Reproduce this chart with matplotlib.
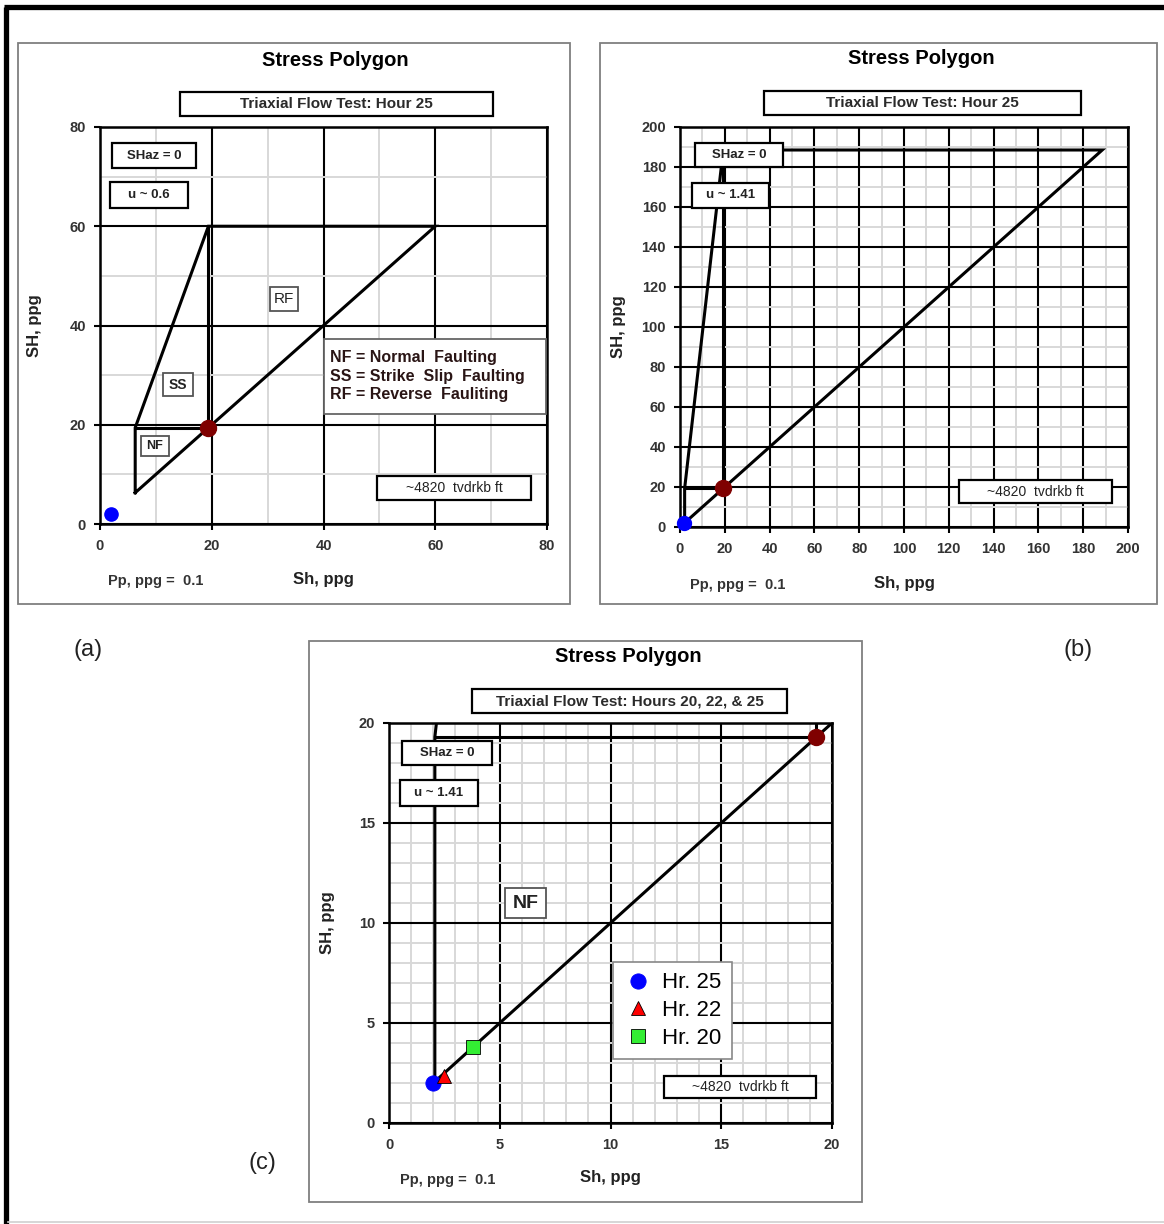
import matplotlib
matplotlib.use('Agg')
import matplotlib.pyplot as plt
from matplotlib.patches import Rectangle
from matplotlib.lines import Line2D
import numpy as np

plt.rcParams['font.family'] = ['Liberation Sans', 'DejaVu Sans']

W, H = 1164, 1224

# ---- data ---- #
pp_text = 'Pp, ppg =  0.1'
depth_text = '~4820  tvdrkb ft'

# panel (a): u ~ 0.6
poly_a_x = [6.3, 6.3, 19.4, 60.0, 6.3]
poly_a_y = [6.3, 19.4, 60.0, 60.0, 6.3]
inner_a_x = [6.3, 19.4, 19.4]
inner_a_y = [19.4, 19.4, 60.0]

# panels (b) and (c): u ~ 1.41
poly_b_x = [2.07, 2.07, 19.3, 188.5, 2.07]
poly_b_y = [2.07, 19.3, 188.5, 188.5, 2.07]
inner_b_x = [2.07, 19.3, 19.3]
inner_b_y = [19.3, 19.3, 188.5]

sv_a = [19.4, 19.4]
sv_b = [19.3, 19.3]

hours = ['Hr. 25', 'Hr. 22', 'Hr. 20']
hour_sh = [2.0, 2.5, 3.8]
hour_SH = [2.0, 2.35, 3.8]
hour_marker = ['o', '^', 's']
hour_color = ['#0000ff', '#ff0000', '#33ee33']


def fx(px):
    return px / W


def fy(py):
    return 1 - py / H


def make_axes(x0, y0, x1, y1, lim, major, minor):
    ax = fig.add_axes([fx(x0), fy(y1), (x1 - x0) / W, (y1 - y0) / H])
    ax.set_xlim(0, lim)
    ax.set_ylim(0, lim)
    ticks = np.arange(0, lim + major / 2, major)
    mticks = np.arange(0, lim + minor / 2, minor)
    ax.set_xticks(ticks)
    ax.set_yticks(ticks)
    ax.set_xticks(mticks, minor=True)
    ax.set_yticks(mticks, minor=True)
    ax.grid(which='minor', color='#d8d8d8', lw=1.4)
    ax.grid(which='major', color='black', lw=1.5)
    ax.set_axisbelow(True)
    ax.tick_params(which='minor', length=0)
    ax.tick_params(which='major', length=4, width=1.5, direction='out',
                   labelsize=10.5, labelcolor='#333333')
    ax.tick_params(axis='x', pad=7)
    ax.tick_params(axis='y', pad=6)
    for lbl in ax.get_xticklabels() + ax.get_yticklabels():
        lbl.set_fontweight('bold')
    for sp in ax.spines.values():
        sp.set_linewidth(1.8)
    ax.set_xlabel('Sh, ppg', fontsize=12, fontweight='bold', color='#222222')
    ax.set_ylabel('SH, ppg', fontsize=12, fontweight='bold', color='#222222')
    return ax


def box_text(ax, x0, y0, x1, y1, s, ec='black', lw=1.6, **kw):
    ax.add_patch(Rectangle((x0, y0), x1 - x0, y1 - y0, fc='white', ec=ec, lw=lw,
                           zorder=5, clip_on=False))
    kw.setdefault('fontsize', 9.5)
    kw.setdefault('fontweight', 'bold')
    kw.setdefault('color', '#222222')
    ax.text((x0 + x1) / 2, (y0 + y1) / 2, s, ha='center', va='center', zorder=6, **kw)


def fig_box(x0, y0, x1, y1, s):
    fig.add_artist(Rectangle((fx(x0), fy(y1)), (x1 - x0) / W, (y1 - y0) / H,
                             transform=fig.transFigure, fc='white', ec='black', lw=1.6))
    fig.text(fx((x0 + x1) / 2), fy((y0 + y1) / 2), s, ha='center', va='center',
             fontsize=11, fontweight='bold', color='#2a2a2a')


def panel_frame(x0, y0, x1, y1):
    fig.add_artist(Rectangle((fx(x0), fy(y1)), (x1 - x0) / W, (y1 - y0) / H,
                             transform=fig.transFigure, fc='none', ec='#7f7f7f', lw=1.3))


def draw_polygon(ax, px, py, ix, iy, sv):
    ax.plot(px, py, color='black', lw=2.2, zorder=3, solid_joinstyle='miter')
    ax.plot(ix, iy, color='black', lw=2.2, zorder=3)
    ax.plot(sv[0], sv[1], 'o', color='#7f0000', ms=11.5, zorder=4)


fig = plt.figure(figsize=(W / 100, H / 100), dpi=100)

# outer border (top and left)
fig.add_artist(Line2D([fx(5.5), fx(5.5)], [0, fy(6.5)], transform=fig.transFigure,
                      color='black', lw=3.8, solid_capstyle='butt'))
fig.add_artist(Line2D([fx(3.5), 1], [fy(6.5), fy(6.5)], transform=fig.transFigure,
                      color='black', lw=3.8, solid_capstyle='butt'))
fig.add_artist(Line2D([fx(8), 1], [fy(1222), fy(1222)], transform=fig.transFigure,
                      color='#d0d0d0', lw=1.2))

# ---- panel (a) ---- #
panel_frame(18, 43, 570, 604)
fig.text(fx(335), fy(60), 'Stress Polygon', ha='center', va='center', fontsize=14.5, fontweight='bold')
fig_box(180, 92, 493, 116, 'Triaxial Flow Test: Hour 25')
ax_a = make_axes(100, 127, 547, 524, 80, 20, 10)
ax_a.xaxis.set_label_coords(0.5, -0.121)
ax_a.yaxis.set_label_coords(-0.13, 0.5)
draw_polygon(ax_a, poly_a_x, poly_a_y, inner_a_x, inner_a_y, sv_a)
ax_a.plot(hour_sh[0], hour_SH[0], 'o', color=hour_color[0], ms=9.5, zorder=4, clip_on=False)
box_text(ax_a, 2.1, 71.7, 17.2, 76.8, 'SHaz = 0', fontsize=9.5)
box_text(ax_a, 1.8, 63.7, 15.7, 68.9, 'u ~ 0.6', fontsize=9.5)
box_text(ax_a, 30.4, 42.9, 35.4, 47.8, 'RF', ec='#555555', lw=1.3, fontsize=11, fontweight='normal')
box_text(ax_a, 11.3, 25.8, 16.6, 30.4, 'SS', ec='#555555', lw=1.3, fontsize=10)
box_text(ax_a, 7.3, 13.7, 12.3, 17.7, 'NF', ec='#555555', lw=1.3, fontsize=9)
box_text(ax_a, 49.6, 4.8, 77.1, 9.7, depth_text, fontsize=10, fontweight='normal')
ax_a.add_patch(Rectangle((40.1, 22.2), 39.7, 15.1, fc='white', ec='#666666', lw=1.3,
                         zorder=5, clip_on=False))
ax_a.text(41.2, 29.75, 'NF = Normal  Faulting\nSS = Strike  Slip  Faulting\nRF = Reverse  Fauliting',
          ha='left', va='center', fontsize=11.5, fontweight='bold', color='#2a1515',
          linespacing=1.3, zorder=6)
fig.text(fx(108), fy(581), pp_text, ha='left', va='center', fontsize=10.5, fontweight='bold', color='#333333')
fig.text(fx(88), fy(650), '(a)', ha='center', va='center', fontsize=17, color='#222222')

# ---- panel (b) ---- #
panel_frame(600, 43, 1157, 604)
fig.text(fx(921), fy(59), 'Stress Polygon', ha='center', va='center', fontsize=14.5, fontweight='bold')
fig_box(764, 91, 1081, 115, 'Triaxial Flow Test: Hour 25')
ax_b = make_axes(680, 127, 1128, 527, 200, 20, 10)
ax_b.xaxis.set_label_coords(0.5, -0.1225)
ax_b.yaxis.set_label_coords(-0.12, 0.5)
draw_polygon(ax_b, poly_b_x, poly_b_y, inner_b_x, inner_b_y, sv_b)
ax_b.plot(hour_sh[0], hour_SH[0], 'o', color=hour_color[0], ms=10, zorder=4, clip_on=False)
box_text(ax_b, 6.7, 180, 46, 192, 'SHaz = 0', fontsize=9.5)
box_text(ax_b, 5.4, 159.5, 39.7, 172, 'u ~ 1.41', fontsize=9.5)
box_text(ax_b, 124.6, 12, 192.9, 23.5, depth_text, fontsize=10, fontweight='normal')
fig.text(fx(690), fy(585), pp_text, ha='left', va='center', fontsize=10.5, fontweight='bold', color='#333333')
fig.text(fx(1078), fy(650), '(b)', ha='center', va='center', fontsize=17, color='#222222')

# ---- panel (c) ---- #
panel_frame(309, 641, 862, 1202)
fig.text(fx(628), fy(657), 'Stress Polygon', ha='center', va='center', fontsize=14.5, fontweight='bold')
fig_box(472, 689, 787, 713, 'Triaxial Flow Test: Hours 20, 22, & 25')
ax_c = make_axes(389, 723, 832, 1123, 20, 5, 1)
ax_c.xaxis.set_label_coords(0.5, -0.1175)
ax_c.yaxis.set_label_coords(-0.122, 0.5)
draw_polygon(ax_c, poly_b_x, poly_b_y, inner_b_x, inner_b_y, sv_b)
for lab, sh, SH, mk, col in zip(hours, hour_sh, hour_SH, hour_marker, hour_color):
    ax_c.plot(sh, SH, mk, color=col, mec='black' if mk != 'o' else col, mew=0.6,
              ms=11 if mk == 'o' else 10, zorder=4, label=lab, linestyle='none')
box_text(ax_c, 0.6, 17.9, 4.65, 19.1, 'SHaz = 0', fontsize=9.5)
box_text(ax_c, 0.5, 15.85, 4.0, 17.15, 'u ~ 1.41', fontsize=9.5)
box_text(ax_c, 5.25, 10.25, 7.1, 11.75, 'NF', ec='#555555', lw=1.3, fontsize=14)
box_text(ax_c, 12.4, 1.25, 19.3, 2.35, depth_text, fontsize=10, fontweight='normal')
leg = ax_c.legend(loc='center', bbox_to_anchor=(0.64, 0.281), fontsize=16, frameon=True,
                  fancybox=False, edgecolor='#888888', framealpha=1, handletextpad=0.45,
                  labelspacing=0.3, borderpad=0.45, handlelength=1.3)
leg.get_frame().set_linewidth(1.2)
leg.set_zorder(7)
fig.text(fx(400), fy(1180), pp_text, ha='left', va='center', fontsize=10.5, fontweight='bold', color='#333333')
fig.text(fx(262), fy(1163), '(c)', ha='center', va='center', fontsize=17, color='#222222')

fig.savefig('out.png', dpi=100)
